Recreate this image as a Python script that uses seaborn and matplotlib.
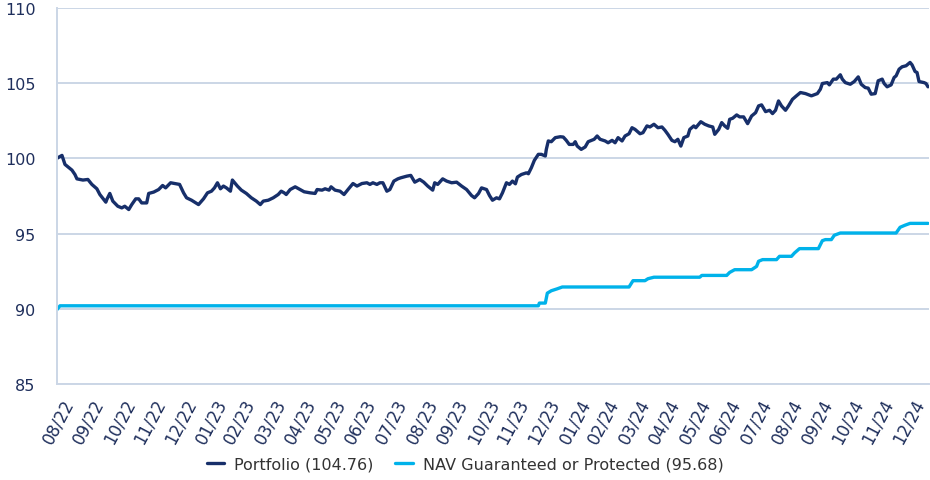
import pandas as pd
import matplotlib
matplotlib.use("Agg")
import matplotlib.pyplot as plt
import seaborn as sns

# Performance since launch, rebased to 100 (day offsets counted from launch)
launch_date = "2022-08-10"

portfolio_day = [
    0, 1, 5, 8, 12, 15, 18, 20, 23, 26, 31, 35, 40, 43, 49, 50, 53, 56, 61, 65,
    68, 72, 75, 79, 82, 85, 90, 92, 97, 102, 106, 109, 114, 118, 123, 127, 130, 135, 142, 147,
    151, 155, 158, 161, 164, 167, 170, 174, 176, 181, 185, 190, 195, 200, 204, 207, 212, 217, 222, 225,
    228, 230, 234, 239, 244, 248, 254, 259, 261, 266, 269, 273, 275, 279, 284, 288, 292, 297, 301, 306,
    311, 314, 317, 321, 324, 327, 331, 334, 338, 342, 345, 351, 355, 359, 364, 368, 372, 377, 379, 382,
    387, 391, 396, 401, 406, 411, 416, 419, 423, 426, 431, 434, 437, 441, 444, 447, 451, 454, 457, 460,
    462, 466, 471, 473, 476, 479, 483, 486, 490, 491, 493, 496, 500, 505, 508, 511, 514, 518, 520, 522,
    526, 530, 533, 539, 542, 545, 550, 553, 557, 560, 563, 567, 570, 574, 577, 580, 585, 588, 592, 595,
    599, 603, 607, 610, 613, 617, 620, 623, 626, 629, 633, 635, 639, 641, 646, 650, 654, 658, 660, 664,
    667, 670, 673, 675, 678, 682, 685, 689, 693, 697, 701, 704, 707, 711, 715, 718, 721, 724, 727, 731,
    734, 738, 742, 746, 751, 757, 763, 766, 768, 773, 775, 779, 782, 786, 788, 791, 796, 800, 804, 807,
    811, 814, 817, 821, 824, 828, 830, 833, 837, 840, 842, 845, 848, 852, 856, 858, 861, 863, 865, 870,
    872, 874,
]
portfolio_value = [
    100.00, 100.05, 100.20, 99.60, 99.38, 99.22, 98.93, 98.64, 98.60, 98.56, 98.60, 98.27, 97.98, 97.60, 97.09, 97.27, 97.67, 97.16, 96.82, 96.71,
    96.82, 96.60, 96.93, 97.31, 97.31, 97.04, 97.04, 97.67, 97.76, 97.93, 98.20, 98.04, 98.38, 98.33, 98.27, 97.71, 97.38, 97.22, 96.93, 97.31,
    97.71, 97.82, 98.04, 98.38, 97.98, 98.16, 98.04, 97.82, 98.56, 98.16, 97.89, 97.67, 97.38, 97.16, 96.93, 97.16, 97.22, 97.38, 97.60, 97.82,
    97.71, 97.60, 97.93, 98.11, 97.93, 97.78, 97.71, 97.67, 97.93, 97.89, 97.98, 97.89, 98.11, 97.89, 97.82, 97.60, 97.93, 98.33, 98.16, 98.33,
    98.38, 98.27, 98.38, 98.27, 98.38, 98.38, 97.82, 97.93, 98.49, 98.64, 98.71, 98.82, 98.87, 98.42, 98.60, 98.42, 98.16, 97.89, 98.38, 98.27,
    98.64, 98.49, 98.38, 98.42, 98.16, 97.93, 97.53, 97.38, 97.67, 98.04, 97.93, 97.53, 97.22, 97.38, 97.31, 97.71, 98.38, 98.27, 98.49, 98.31,
    98.76, 98.93, 99.04, 98.98, 99.38, 99.87, 100.27, 100.27, 100.16, 100.60, 101.16, 101.11, 101.38, 101.44, 101.42, 101.20, 100.93, 100.93, 101.11, 100.82,
    100.60, 100.76, 101.11, 101.27, 101.49, 101.27, 101.16, 101.04, 101.20, 101.04, 101.38, 101.16, 101.49, 101.64, 102.04, 101.93, 101.64, 101.71, 102.16, 102.09,
    102.27, 102.04, 102.09, 101.87, 101.60, 101.20, 101.11, 101.27, 100.82, 101.38, 101.49, 101.93, 102.16, 102.04, 102.44, 102.27, 102.16, 102.09, 101.60, 101.93,
    102.38, 102.16, 102.00, 102.60, 102.67, 102.89, 102.76, 102.76, 102.31, 102.82, 103.04, 103.49, 103.56, 103.11, 103.20, 102.98, 103.20, 103.82, 103.49, 103.20,
    103.49, 103.93, 104.16, 104.38, 104.31, 104.16, 104.31, 104.60, 104.98, 105.04, 104.89, 105.27, 105.27, 105.56, 105.27, 105.04, 104.93, 105.11, 105.42, 104.93,
    104.71, 104.67, 104.27, 104.31, 105.16, 105.27, 104.98, 104.76, 104.89, 105.38, 105.49, 105.93, 106.09, 106.16, 106.38, 106.22, 105.78, 105.71, 105.11, 105.04,
    104.98, 104.76,
]

nav_day = [
    0, 3, 483, 484, 490, 492, 496, 502, 507, 574, 578, 590, 593, 599, 645, 647,
    672, 675, 680, 697, 702, 704, 708, 722, 725, 737, 740, 745, 764, 768, 771, 777,
    780, 786, 842, 846, 851, 856, 874,
]
nav_value = [
    89.95, 90.20, 90.20, 90.38, 90.38, 91.04, 91.20, 91.33, 91.45, 91.45, 91.87, 91.87, 92.00, 92.10, 92.10, 92.22,
    92.22, 92.42, 92.60, 92.60, 92.82, 93.16, 93.27, 93.27, 93.49, 93.49, 93.71, 94.00, 94.00, 94.53, 94.60, 94.60,
    94.89, 95.04, 95.04, 95.42, 95.56, 95.68, 95.68,
]

series_names = ["Portfolio (104.76)", "NAV Guaranteed or Protected (95.68)"]
series_colors = ["#172f6a", "#00b2ea"]
y_ticks = [85, 90, 95, 100, 105, 110]
# month-end ticks, 08/22 through 12/24
month_ticks = pd.date_range("2022-09-01", "2025-01-01", freq="MS") - pd.Timedelta(days=1)

start = pd.Timestamp(launch_date)
frames = []
for name, days, values in [
    (series_names[0], portfolio_day, portfolio_value),
    (series_names[1], nav_day, nav_value),
]:
    frames.append(pd.DataFrame({
        "date": start + pd.to_timedelta(days, unit="D"),
        "value": values,
        "series": name,
    }))
df = pd.concat(frames, ignore_index=True)

sns.set_theme(style="white")
plt.rcParams["font.family"] = ["DejaVu Sans"]

text_color = "#1f2f5c"
grid_color = "#cbd6e6"

fig = plt.figure(figsize=(9.3, 4.81), dpi=100)
ax = fig.add_axes([57 / 930, 1 - 385 / 481, (929 - 57) / 930, (385 - 9) / 481])

sns.lineplot(
    data=df, x="date", y="value", hue="series", hue_order=series_names,
    palette=series_colors, linewidth=2.4, estimator=None, sort=False, ax=ax,
)

ax.set_ylim(85, 110)
ax.set_xlim(start, start + pd.Timedelta(days=875))
ax.set_yticks(y_ticks)
ax.yaxis.grid(True, color=grid_color, linewidth=1.4)
ax.set_axisbelow(True)
ax.set_xlabel("")
ax.set_ylabel("")

ax.set_xticks(month_ticks)
ax.set_xticklabels([d.strftime("%m/%y") for d in month_ticks],
                   rotation=62, ha="right", va="top")

for side in ["top", "right"]:
    ax.spines[side].set_visible(False)
for side in ["left", "bottom"]:
    ax.spines[side].set_color(grid_color)
    ax.spines[side].set_linewidth(1.4)

ax.tick_params(axis="y", length=0, pad=15.5, labelsize=11.5, labelcolor=text_color)
ax.tick_params(axis="x", length=6, width=1.0, color=grid_color, pad=2,
               labelsize=12, labelcolor=text_color)

ax.get_legend().remove()
handles, labels = ax.get_legend_handles_labels()
fig.legend(
    handles, labels, loc="center", bbox_to_anchor=(0.5, 1 - 465 / 481), ncol=2,
    frameon=False, fontsize=11.5, handlelength=1.1, handletextpad=0.6,
    columnspacing=1.4, labelcolor="#333333",
)

fig.savefig("out.png", dpi=100)
